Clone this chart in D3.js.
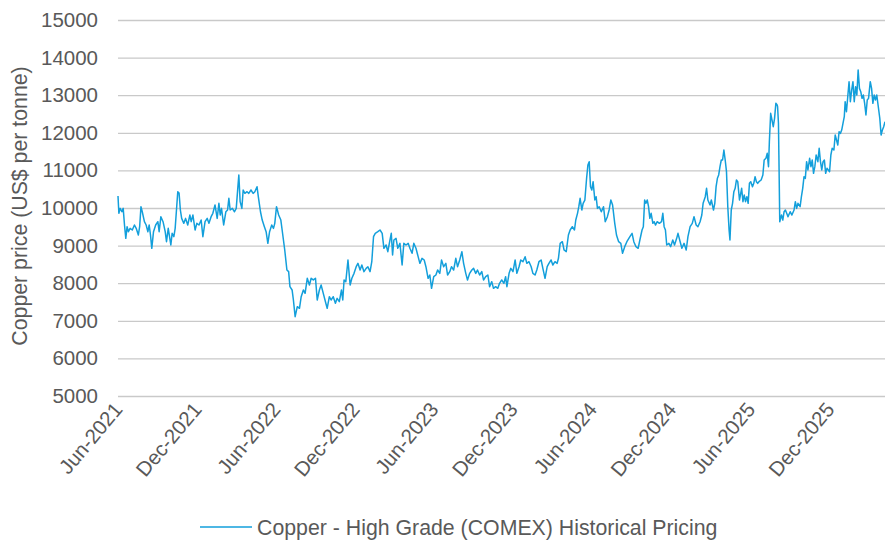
<!DOCTYPE html>
<html>
<head>
<meta charset="utf-8">
<script src="https://cdn.jsdelivr.net/npm/d3@7"></script>
<style>
  html, body { margin: 0; padding: 0; background: #ffffff; }
  svg { display: block; }
  text { font-family: "Liberation Sans", Arial, sans-serif; fill: #595959; }
</style>
</head>
<body>
<svg id="chart" width="885" height="540"></svg>
<script>
// ---------- DATA ----------
const seriesName = "Copper - High Grade (COMEX) Historical Pricing";
const yAxisTitle = "Copper price (US$ per tonne)";
const startDate = "2021-06-01";
// days elapsed since startDate for each observation
const dayOffsets = [
  0,2,5,9,12,15,18,21,24,28,33,38,42,47,50,53,56,61,65,69,72,75,78,82,87,92,95,99,104,109,112,116,119,122,125,129,132,135,138,141,144,147,152,156,161,166,169,173,178,182,187,192,196,201,206,210,215,219,224,229,233,236,239,244,249,253,256,259,264,269,273,276,279,282,286,289,293,298,302,307,312,316,321,324,329,333,338,342,346,350,355,359,
  362,366,371,376,379,382,385,390,394,397,402,405,409,414,419,423,428,432,437,442,446,451,456,460,465,469,474,479,483,488,492,497,502,506,511,516,519,522,526,531,536,540,545,550,554,559,563,568,573,577,582,586,590,594,600,605,610,614,619,623,628,631,634,637,642,646,651,656,660,665,670,674,679,683,688,693,697,702,707,711,716,720,
  724,729,734,738,743,747,752,757,761,766,770,775,780,784,789,794,798,803,807,812,817,821,826,830,835,840,844,849,854,858,863,867,872,877,881,886,891,895,898,903,907,912,917,921,926,930,935,940,944,949,954,958,963,967,972,977,981,986,991,995,1000,1004,1009,1014,1017,1021,1026,1030,1035,1040,1044,1049,1054,1057,1061,1064,1067,1071,1074,1078,
  1082,1085,1088,1091,1094,1097,1101,1104,1107,1111,1116,1121,1125,1130,1134,1138,1142,1147,1151,1156,1161,1165,1170,1175,1182,1187,1191,1196,1201,1205,1210,1213,1216,1219,1222,1225,1228,1231,1235,1238,1241,1245,1250,1255,1258,1261,1264,1267,1272,1276,1281,1285,1290,1293,1298,1302,1307,1312,1316,1321,1326,1330,1335,1339,1344,1348,1351,1356,1359,1362,1367,1370,1375,1378,1381,1384,1387,1390,1393,1396,1399,1402,1405,1408,1411,1413,1416,1419,1422,1425,1428,1431,1435,
  1440,1443,1446,1449,1452,1455,1458,1461,1465,1468,1471,1474,1477,1480,1485,1489,1492,1496,1499,1502,1504,1507,1510,1513,1516,1519,1522,1523,1525,1526,1528,1530,1532,1535,1538,1541,1544,1547,1552,1556,1561,1564,1567,1570,1575,1578,1581,1584,1587,1590,1593,1597,1600,1603,1606,1609,1612,1616,1619,1622,1625,1628,1631,1634,1637,1640,1643,1646,1649,1653,1656,1659,1662,1665,1668,1671,1674,1677,1679,1682,1685,1688,1691,1694,1697,1700,1703,1706,1709,1712,1715,1718,1721,1724,1727,1730,1733,1737,1740,1743,1746,1749,1752,1755,1759,1762,1765,1768,1771
];
// US$ per tonne
const prices = [
  10319,9859,9990,9900,9990,9548,9194,9503,9370,9459,9415,9548,9459,9282,9503,10035,9900,9636,9548,9370,9548,9282,8928,9370,9548,9636,9370,9769,9636,9370,9104,9459,9238,9016,9326,9238,9459,9947,10434,10400,9947,9724,9592,9724,9548,9813,9636,9813,9415,9592,9548,9680,9238,9636,9724,9592,9769,9859,10080,9724,10124,9813,9990,9548,9900,9947,10257,9947,9990,9900,9990,10434,10878,10168,9990,10479,10390,10434,10390,10479,10390,10434,10567,10301,9900,9680,9503,9370,9061,9370,9548,9459,
  9592,10035,9813,9680,9415,9149,8883,8351,8307,7909,7820,7553,7110,7376,7332,7641,7820,7731,8130,7953,8130,8086,8130,7553,7820,7953,7731,7508,7332,7641,7553,7641,7464,7597,7508,7819,7553,8086,8041,8617,7953,8130,8262,8439,8528,8351,8484,8307,8395,8439,8307,8572,9237,9326,9370,9415,9326,8928,9016,8839,9149,9326,8750,9149,9193,8928,9060,8484,9060,9016,9060,8928,8795,9060,8928,8706,8528,8661,8617,8439,8130,8218,
  7864,8173,8218,8351,8262,8617,8439,8528,8218,8307,8439,8351,8662,8439,8617,8838,8528,8262,8086,8262,8351,8395,8262,8351,8218,8307,8086,8173,8218,7907,8041,7864,7907,7864,7997,8086,7997,8173,7907,8262,8395,8307,8617,8262,8439,8617,8572,8705,8528,8572,8439,8262,8218,8351,8572,8617,8395,8130,8439,8528,8617,8484,8572,8528,8662,9060,9104,8883,8839,9282,9415,9503,9415,9681,9858,10035,10257,9947,10124,10212,
  10790,11144,11231,10567,10478,10700,10213,10300,9990,10035,9900,10035,9636,9769,9947,10213,10080,9592,9282,9104,9060,8795,8972,9104,9237,9326,9104,8971,8928,9149,9415,9503,10213,10124,10213,10035,9726,9858,9592,9636,9547,9636,9592,9636,9858,9503,9415,9016,9060,8972,9149,9016,9193,9326,9104,8928,9060,8883,9237,9503,9592,9769,9547,9503,9636,9813,10124,10301,10523,10213,10080,10213,9947,10124,10567,10790,10878,11100,11277,11277,11543,11277,10966,10035,9415,9149,9947,10124,10434,10523,10745,10700,10213,
  10523,10168,10345,10168,10301,10124,10656,10700,10567,10656,10833,10700,10656,10700,10745,10878,11277,11321,11454,11100,11764,12518,12340,12163,12385,12784,12740,12695,12252,11410,9636,9724,9813,9680,9902,9947,9858,9769,9902,9813,9947,10168,9990,10124,10035,10301,10523,10833,10789,11232,11011,11321,11100,11277,10922,11100,11410,11232,11587,11232,11011,11232,11277,10922,11055,11011,10966,11410,11587,11543,11941,11809,11676,12030,11985,12074,12252,12429,12828,12562,12960,13359,12828,13137,13359,12828,13226,13004,13670,13181,13093,12916,13004,12784,12474,12872,12916,13359,13181,12784,13004,12872,13004,12740,12385,11941,12074,12163,12296
];
const yTicks = [5000, 6000, 7000, 8000, 9000, 10000, 11000, 12000, 13000, 14000, 15000];
const xTickLabels = ["Jun-2021", "Dec-2021", "Jun-2022", "Dec-2022", "Jun-2023", "Dec-2023", "Jun-2024", "Dec-2024", "Jun-2025", "Dec-2025"];

// ---------- CHART ----------
const svg = d3.select("#chart");
const plot = { left: 118, right: 885, top: 20, bottom: 396 };
const lineColor = "#139fdb";
const gridColor = "#c9c9c9";
const tickFont = 20.5;
const titleFont = 21.3;
const fontFamily = '"Liberation Sans", Arial, sans-serif';

const parseDay = d3.timeParse("%Y-%m-%d");
const parseMonth = d3.timeParse("%b-%Y");
const t0 = parseDay(startDate);
const data = dayOffsets.map((d, i) => ({ date: d3.timeDay.offset(t0, d), value: prices[i] }));

const x = d3.scaleTime()
  .domain([t0, d3.timeDay.offset(t0, d3.max(dayOffsets))])
  .range([plot.left, plot.right]);
const y = d3.scaleLinear()
  .domain([d3.min(yTicks), d3.max(yTicks)])
  .range([plot.bottom, plot.top]);

// Gridlines + y labels via axis
const yAxis = d3.axisLeft(y)
  .tickValues(yTicks)
  .tickSize(-(plot.right - plot.left))
  .tickFormat(d3.format("d"));
const gy = svg.append("g")
  .attr("transform", `translate(${plot.left},0)`)
  .call(yAxis);
gy.select(".domain").remove();
gy.selectAll(".tick line").attr("stroke", gridColor).attr("stroke-width", 1.3);
gy.selectAll(".tick text")
  .attr("x", 98 - plot.left)
  .style("font-size", tickFont + "px")
  .style("fill", "#595959")
  .style("font-family", fontFamily);

// X axis labels
const xTickDates = xTickLabels.map(s => parseMonth(s));
const xAxis = d3.axisBottom(x)
  .tickValues(xTickDates)
  .tickSize(0)
  .tickFormat((d, i) => xTickLabels[i]);
const gx = svg.append("g")
  .attr("transform", `translate(0,${plot.bottom})`)
  .call(xAxis);
gx.select(".domain").remove();
gx.selectAll(".tick text")
  .attr("text-anchor", "end")
  .attr("dy", 0)
  .attr("y", 0)
  .attr("transform", "translate(5,14) rotate(-50)")
  .style("font-size", tickFont + "px")
  .style("fill", "#595959")
  .style("font-family", fontFamily);

// Line
const line = d3.line()
  .x(d => x(d.date))
  .y(d => y(d.value));
svg.append("path")
  .datum(data)
  .attr("fill", "none")
  .attr("stroke", lineColor)
  .attr("stroke-width", 1.5)
  .attr("stroke-linejoin", "round")
  .attr("d", line);

// Y axis title
svg.append("text")
  .attr("transform", `translate(27,${(plot.top + plot.bottom) / 2 - 2}) rotate(-90)`)
  .attr("text-anchor", "middle")
  .style("font-size", titleFont + "px")
  .style("font-family", fontFamily)
  .text(yAxisTitle);

// Legend
const legend = svg.append("g").attr("transform", "translate(0,527)");
legend.append("line")
  .attr("x1", 200).attr("x2", 252)
  .attr("y1", 0).attr("y2", 0)
  .attr("stroke", lineColor).attr("stroke-width", 1.5);
legend.append("text")
  .attr("x", 257).attr("y", 0).attr("dy", "0.36em")
  .style("font-size", titleFont + "px")
  .style("font-family", fontFamily)
  .text(seriesName);
</script>
</body>
</html>
